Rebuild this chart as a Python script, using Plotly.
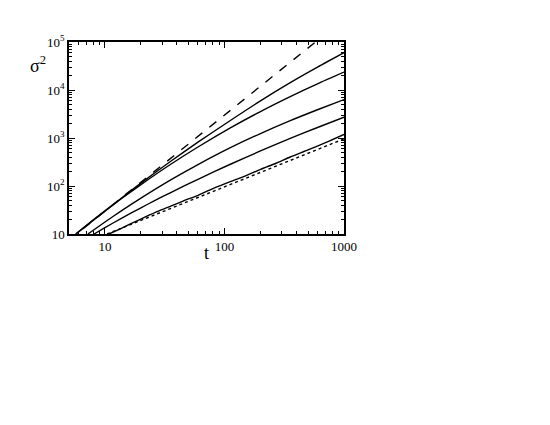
import plotly.graph_objects as go

# time points and mean-square displacement for each curve
t_ballistic = [5.0, 1000.0]
s_ballistic = [7.5, 3.0e5]

t_diffusive = [10.4, 1000.0]
s_diffusive = [10.0, 960.0]

t1 = [5.7, 8.0, 13.6, 20.0, 35.5, 60.0, 112.0, 200.0, 355.0, 600.0, 1000.0]
s1 = [10.0, 19.7, 55.0, 115.0, 327.0, 818.0, 2320.0, 5930.0, 14200.0, 29900.0, 59800.0]

t2 = [5.7, 8.0, 13.6, 20.0, 35.5, 60.0, 112.0, 200.0, 355.0, 600.0, 1000.0]
s2 = [10.0, 19.5, 53.5, 107.0, 284.0, 650.0, 1625.0, 3560.0, 7280.0, 13450.0, 23600.0]

t3 = [7.2, 10.0, 13.6, 20.0, 35.5, 60.0, 112.0, 200.0, 355.0, 600.0, 1000.0]
s3 = [10.0, 17.8, 30.0, 56.0, 134.0, 279.0, 627.0, 1236.0, 2296.0, 3880.0, 6310.0]

t4 = [8.1, 10.0, 13.6, 20.0, 26.0, 35.5, 60.0, 112.0, 200.0, 355.0, 600.0, 1000.0]
s4 = [10.0, 13.6, 20.9, 35.2, 49.4, 73.0, 138.0, 284.0, 537.0, 979.0, 1656.0, 2716.0]

t5 = [10.8, 13.6, 17.0, 22.0, 28.0, 35.5, 45.0, 60.0, 80.0, 112.0, 150.0, 200.0, 270.0, 355.0, 500.0, 700.0, 1000.0]
s5 = [10.0, 13.0, 17.0, 23.0, 30.0, 38.0, 48.5, 64.0, 88.0, 123.0, 162.0, 222.0, 298.0, 402.0, 565.0, 800.0, 1190.0]

x_ticks = [10, 100, 1000]
x_labels = ["10", "100", "1000"]
y_ticks = [10, 100, 1000, 10000, 100000]
y_labels = ["10", "10<sup>2</sup>", "10<sup>3</sup>", "10<sup>4</sup>", "10<sup>5</sup>"]

x_minor = [m * 10 ** e for e in range(0, 3) for m in range(2, 10)]
y_minor = [m * 10 ** e for e in range(1, 5) for m in range(2, 10)]

fig = go.Figure()

for tt, ss in [(t1, s1), (t2, s2), (t3, s3), (t4, s4), (t5, s5)]:
    fig.add_trace(go.Scatter(
        x=tt, y=ss, mode="lines", line_shape="spline",
        line=dict(color="black", width=1.4, smoothing=0.6),
        showlegend=False, hoverinfo="skip",
    ))

fig.add_trace(go.Scatter(
    x=t_ballistic, y=s_ballistic, mode="lines",
    line=dict(color="black", width=1.4, dash="dash"),
    showlegend=False, hoverinfo="skip",
))

fig.add_trace(go.Scatter(
    x=t_diffusive, y=s_diffusive, mode="lines",
    line=dict(color="black", width=1.4, dash="dot"),
    showlegend=False, hoverinfo="skip",
))

axis_font = dict(family="Liberation Serif", size=13, color="black")

# plot area in page pixels: left 69, right 344, top 42, bottom 234
# (the html body adds an 8 px offset)
m_l, m_r, m_t, m_b = 61, 214, 34, 199

fig.update_layout(
    width=550,
    height=425,
    paper_bgcolor="white",
    plot_bgcolor="white",
    margin=dict(l=m_l, r=m_r, t=m_t, b=m_b),
    xaxis=dict(
        type="log",
        range=[0.699, 3.0],
        tickvals=x_ticks,
        ticktext=x_labels,
        ticks="inside", ticklen=6, tickcolor="black",
        minor=dict(tickvals=x_minor, ticks="inside", ticklen=3,
                   tickcolor="black", showgrid=False),
        showline=True, linecolor="black", linewidth=1.5, mirror="ticks",
        showgrid=False, zeroline=False,
        tickfont=axis_font,
    ),
    yaxis=dict(
        type="log",
        range=[1.0, 5.0],
        tickvals=y_ticks,
        ticktext=y_labels,
        ticks="inside", ticklen=6, tickcolor="black",
        minor=dict(tickvals=y_minor, ticks="inside", ticklen=3,
                   tickcolor="black", showgrid=False),
        showline=True, linecolor="black", linewidth=1.5, mirror="ticks",
        showgrid=False, zeroline=False,
        tickfont=axis_font,
    ),
)

plot_w = 550 - m_l - m_r
plot_h = 425 - m_t - m_b
fig.add_annotation(
    text="σ<sup>2</sup>", xref="paper", yref="paper",
    x=(38 - 69) / plot_w, y=(234 - 64) / plot_h,
    xanchor="center", yanchor="middle",
    showarrow=False, font=dict(family="Liberation Serif", size=18, color="black"),
)
fig.add_annotation(
    text="t", xref="paper", yref="paper",
    x=(206 - 69) / plot_w, y=(234 - 253) / plot_h,
    xanchor="center", yanchor="middle",
    showarrow=False, font=dict(family="Liberation Serif", size=18, color="black"),
)

fig.write_html("out.html")
